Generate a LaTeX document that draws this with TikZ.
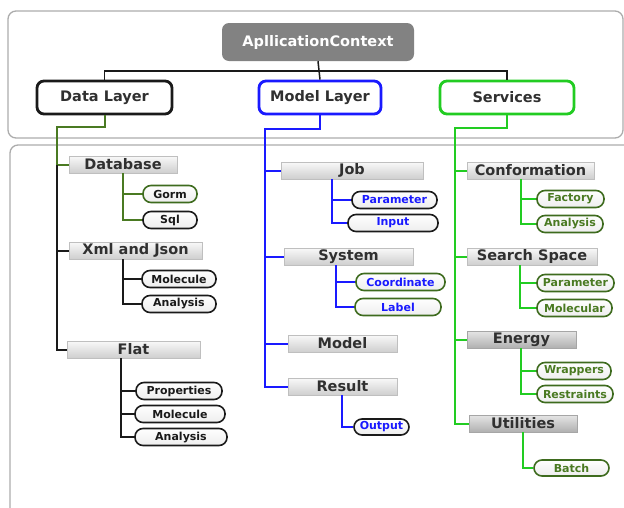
\documentclass[tikz,border=0pt]{standalone}
\usepackage{fontspec}
\setmainfont{DejaVu Sans}
\usetikzlibrary{calc}
\definecolor{dkgreen}{HTML}{4A7A22}
\definecolor{pillgreen}{HTML}{3E6B1E}
\definecolor{brgreen}{HTML}{22CC22}
\definecolor{myblue}{HTML}{1A1AFF}
\definecolor{txt}{HTML}{303030}
\definecolor{blk}{HTML}{1A1A1A}
\definecolor{appgray}{HTML}{828282}
\begin{document}
\begin{tikzpicture}[x=1pt,y=-1pt,
  panel/.style={draw=gray!65, line width=1.3pt, rounded corners=8pt},
  layer/.style={draw, line width=2.8pt, rounded corners=7pt, fill=white, minimum height=33pt, inner sep=0pt, font=\fontsize{14.5}{17}\selectfont\bfseries, text=txt},
  gbox/.style={draw=gray!50, line width=0.6pt, top color=gray!5, bottom color=gray!38, minimum height=17pt, inner sep=0pt, font=\fontsize{14.5}{17}\selectfont\bfseries, text=txt},
  dbox/.style={gbox, top color=gray!20, bottom color=gray!62, draw=gray!70},
  pill/.style={draw, line width=1.6pt, rounded corners=8pt, top color=white, bottom color=gray!14, minimum height=17pt, inner sep=0pt, font=\fontsize{11}{13}\selectfont\bfseries},
  dpill/.style={pill, draw=blk, text=blk},
  mpill/.style={pill, draw=blk, text=myblue},
  spill/.style={pill, draw=pillgreen, text=dkgreen},
  link/.style={line width=2pt}
]
\useasboundingbox (0,0) rectangle (624,507);
\begin{scope}
\clip (0,0) rectangle (624,507);
% panels
\draw[panel] (8,11) rectangle (623,138);
\draw[panel] (10,530) -- (10,145) -- (660,145);

% top
\node[fill=appgray, rounded corners=7pt, minimum width=192pt, minimum height=38pt, inner sep=0pt, text=white, font=\fontsize{14.5}{17}\selectfont\bfseries] (app) at (318,42) {ApllicationContext};
\node[layer, draw=blk, minimum width=135pt] (dl) at (104.5,97.5) {Data Layer};
\node[layer, draw=myblue, minimum width=122pt] (ml) at (320,97.5) {Model Layer};
\node[layer, draw=brgreen, minimum width=134pt] (sv) at (507,97.5) {Services};
\coordinate (hj) at (318,71);
\draw[line width=1.5pt, draw=blk] (dl.north) |- (hj) -| (sv.north);
\draw[line width=1.5pt, draw=blk] (app.south) -- (ml.north);

% ---------- Data layer column
\node[gbox, minimum width=108pt] (db) at (123,164.5) {Database};
\node[gbox, minimum width=133pt] (xml) at (135.5,250.5) {Xml and Json};
\node[gbox, minimum width=133pt] (flat) at (133.5,349.5) {Flat};
\node[pill, draw=pillgreen, text=blk, minimum width=54pt] (gorm) at (170,194) {Gorm};
\node[dpill, minimum width=54pt] (sql) at (170,220) {Sql};
\node[dpill, minimum width=74pt] (xmol) at (179,279) {Molecule};
\node[dpill, minimum width=74pt] (xana) at (179,304) {Analysis};
\node[dpill, minimum width=86pt] (prop) at (179,391) {Properties};
\node[dpill, minimum width=90pt] (fmol) at (180,414) {Molecule};
\node[dpill, minimum width=92pt] (fana) at (181,437) {Analysis};

\coordinate (dk) at (57,127);
\draw[link, dkgreen] (dl.south) |- (dk) -- (dk |- db.west) -- (db.west);
\draw[link, blk] (dk |- db.west) |- (flat.west);
\draw[link, blk] (dk |- xml.west) -- (xml.west);
\coordinate (dbj) at ($(db.south west)+(54,0)$);
\draw[link, dkgreen] (dbj) |- (sql.west);
\draw[link, dkgreen] (dbj |- gorm.west) -- (gorm.west);
\coordinate (xmlj) at ($(xml.south west)+(54,0)$);
\draw[link, blk] (xmlj) |- (xana.west);
\draw[link, blk] (xmlj |- xmol.west) -- (xmol.west);
\coordinate (flatj) at ($(flat.south west)+(54,0)$);
\draw[link, blk] (flatj) |- (fana.west);
\draw[link, blk] (flatj |- prop.west) -- (prop.west);
\draw[link, blk] (flatj |- fmol.west) -- (fmol.west);

% ---------- Model layer column
\node[gbox, minimum width=142pt] (job) at (352,170.5) {Job};
\node[gbox, minimum width=129pt] (sys) at (348.5,256.5) {System};
\node[gbox, minimum width=109pt] (mod) at (342.5,343.5) {Model};
\node[gbox, minimum width=109pt] (rst) at (342.5,386.5) {Result};
\node[mpill, minimum width=85pt] (par) at (394.5,200) {Parameter};
\node[mpill, minimum width=90pt] (inp) at (393,223) {Input};
\node[pill, draw=pillgreen, text=myblue, minimum width=89pt] (coo) at (400.5,282) {Coordinate};
\node[pill, draw=pillgreen, text=myblue, minimum width=86pt] (lab) at (398,307) {Label};
\node[mpill, minimum width=55pt, minimum height=16pt] (out) at (381.5,427) {Output};

\coordinate (mk) at (265,129);
\draw[link, myblue] (ml.south) |- (mk) |- (rst.west);
\draw[link, myblue] (mk |- job.west) -- (job.west);
\draw[link, myblue] (mk |- sys.west) -- (sys.west);
\draw[link, myblue] (mk |- mod.west) -- (mod.west);
\coordinate (jobj) at ($(job.south west)+(51,0)$);
\draw[link, myblue] (jobj) |- (inp.west);
\draw[link, myblue] (jobj |- par.west) -- (par.west);
\coordinate (sysj) at ($(sys.south west)+(52,0)$);
\draw[link, myblue] (sysj) |- (lab.west);
\draw[link, myblue] (sysj |- coo.west) -- (coo.west);
\coordinate (rstj) at ($(rst.south west)+(54,0)$);
\draw[link, myblue] (rstj) |- (out.west);

% ---------- Services column
\node[gbox, minimum width=127pt] (conf) at (530.5,170.5) {Conformation};
\node[gbox, minimum width=130pt] (ssp) at (532,256.5) {Search Space};
\node[dbox, minimum width=109pt] (ene) at (521.5,339.5) {Energy};
\node[dbox, minimum width=108pt] (uti) at (523,423.5) {Utilities};
\node[spill, minimum width=67pt] (fac) at (570.5,199) {Factory};
\node[spill, minimum width=66pt] (sana) at (570,224) {Analysis};
\node[spill, minimum width=77pt] (spar) at (575.5,283) {Parameter};
\node[spill, minimum width=75pt] (smol) at (574.5,308) {Molecular};
\node[spill, minimum width=74pt] (wra) at (574,371) {Wrappers};
\node[spill, minimum width=76pt] (rsn) at (575,394) {Restraints};
\node[spill, minimum width=75pt, minimum height=16pt] (bat) at (571.5,468) {Batch};

\coordinate (sk) at (455,128);
\draw[link, brgreen] (sv.south) |- (sk) |- (uti.west);
\draw[link, brgreen] (sk |- conf.west) -- (conf.west);
\draw[link, brgreen] (sk |- ssp.west) -- (ssp.west);
\draw[link, brgreen] (sk |- ene.west) -- (ene.west);
\coordinate (confj) at ($(conf.south west)+(54,0)$);
\draw[link, brgreen] (confj) |- (sana.west);
\draw[link, brgreen] (confj |- fac.west) -- (fac.west);
\coordinate (sspj) at ($(ssp.south west)+(53,0)$);
\draw[link, brgreen] (sspj) |- (smol.west);
\draw[link, brgreen] (sspj |- spar.west) -- (spar.west);
\coordinate (enej) at ($(ene.south west)+(54,0)$);
\draw[link, brgreen] (enej) |- (rsn.west);
\draw[link, brgreen] (enej |- wra.west) -- (wra.west);
\coordinate (utij) at ($(uti.south west)+(54,0)$);
\draw[link, brgreen] (utij) |- (bat.west);
\end{scope}
\end{tikzpicture}
\end{document}
